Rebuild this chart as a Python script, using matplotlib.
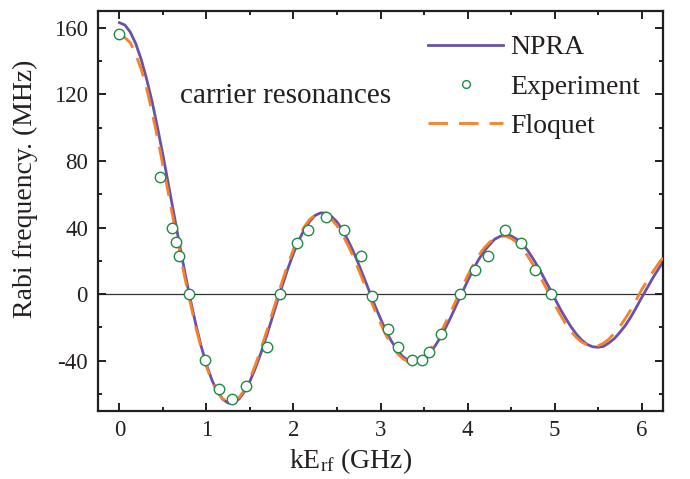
import matplotlib
matplotlib.use("Agg")
import matplotlib.pyplot as plt
from matplotlib.ticker import MultipleLocator

plt.rcParams['font.family'] = ['Liberation Serif', 'DejaVu Serif']
plt.rcParams['mathtext.fontset'] = 'custom'
plt.rcParams['mathtext.rm'] = 'Liberation Serif'
plt.rcParams['mathtext.it'] = 'Liberation Serif:italic'
plt.rcParams['axes.unicode_minus'] = False

# curves, every 0.0625 GHz
x_curve = [0.0, 0.0625, 0.125, 0.1875, 0.25, 0.3125, 0.375, 0.4375, 0.5, 0.5625,
           0.625, 0.6875, 0.75, 0.8125, 0.875, 0.9375, 1.0, 1.0625, 1.125, 1.1875,
           1.25, 1.3125, 1.375, 1.4375, 1.5, 1.5625, 1.625, 1.6875, 1.75, 1.8125,
           1.875, 1.9375, 2.0, 2.0625, 2.125, 2.1875, 2.25, 2.3125, 2.375, 2.4375,
           2.5, 2.5625, 2.625, 2.6875, 2.75, 2.8125, 2.875, 2.9375, 3.0, 3.0625,
           3.125, 3.1875, 3.25, 3.3125, 3.375, 3.4375, 3.5, 3.5625, 3.625, 3.6875,
           3.75, 3.8125, 3.875, 3.9375, 4.0, 4.0625, 4.125, 4.1875, 4.25, 4.3125,
           4.375, 4.4375, 4.5, 4.5625, 4.625, 4.6875, 4.75, 4.8125, 4.875, 4.9375,
           5.0, 5.0625, 5.125, 5.1875, 5.25, 5.3125, 5.375, 5.4375, 5.5, 5.5625,
           5.625, 5.6875, 5.75, 5.8125, 5.875, 5.9375, 6.0, 6.0625, 6.125, 6.1875, 6.25]

npra = [163.0, 161.6, 157.3, 150.4, 140.9, 129.1, 115.6, 100.0, 83.4, 66.0,
        48.3, 30.7, 13.5, -2.7, -17.6, -31.0, -42.4, -51.6, -58.5, -63.2,
        -65.4, -65.2, -62.9, -58.5, -52.2, -44.4, -35.5, -25.6, -15.2, -4.6,
        5.7, 15.6, 24.5, 32.4, 38.9, 43.8, 47.3, 48.8, 48.6, 46.6,
        43.4, 38.5, 32.5, 25.6, 17.8, 9.6, 1.2, -7.1, -14.7, -22.1,
        -28.2, -33.2, -37.2, -39.6, -40.7, -40.4, -38.6, -35.5, -31.3, -26.1,
        -20.0, -13.4, -6.2, 0.8, 7.8, 14.5, 20.5, 25.6, 29.5, 33.0,
        34.7, 35.6, 35.0, 33.1, 30.3, 26.5, 21.5, 16.2, 10.1, 4.0,
        -2.3, -8.6, -14.2, -19.5, -24.0, -27.6, -30.2, -31.6, -31.9, -31.4,
        -29.3, -26.7, -23.0, -18.9, -13.9, -8.2, -2.2, 3.5, 9.3, 14.6, 19.7]

floquet = [156.0, 154.0, 151.0, 144.0, 135.0, 123.5, 109.0, 94.0, 77.0, 60.5,
           43.0, 27.0, 10.0, -4.8, -19.5, -32.0, -43.5, -52.5, -59.0, -63.0,
           -64.5, -64.5, -62.0, -57.5, -50.5, -42.5, -33.0, -23.0, -12.5, -2.0,
           8.5, 18.0, 27.0, 34.5, 40.5, 45.0, 47.5, 48.5, 47.0, 45.0,
           41.0, 35.8, 29.5, 22.5, 14.5, 6.3, -2.0, -10.0, -17.5, -24.5,
           -30.5, -35.3, -38.5, -40.5, -40.5, -39.8, -37.5, -33.8, -29.0, -23.5,
           -17.0, -10.2, -3.0, 4.0, 11.0, 17.3, 23.0, 27.5, 31.0, 33.5,
           34.5, 34.8, 33.5, 31.2, 27.5, 23.2, 18.0, 12.4, 6.5, 0.3,
           -6.0, -12.0, -17.5, -22.2, -26.0, -28.8, -30.5, -31.3, -31.0, -29.5,
           -27.0, -23.5, -19.5, -14.7, -9.5, -3.6, 2.5, 7.8, 13.0, 17.8, 22.0]

# experiment points
x_exp = [0.0, 0.47, 0.60, 0.65, 0.685, 0.795, 0.987, 1.14, 1.295, 1.456,
         1.70, 1.85, 2.036, 2.166, 2.37, 2.58, 2.78, 2.908, 3.09, 3.196,
         3.357, 3.48, 3.56, 3.695, 3.914, 4.09, 4.24, 4.43, 4.616, 4.77, 4.96]
y_exp = [156.0, 70.5, 39.5, 31.0, 22.6, 0.0, -39.3, -57.1, -62.8, -55.2,
         -31.5, 0.0, 30.7, 38.7, 46.5, 38.7, 23.0, -1.0, -20.7, -31.5,
         -39.5, -39.5, -34.5, -23.7, 0.0, 14.6, 23.0, 38.7, 30.7, 14.6, 0.0]

txt = '#231f20'
fig = plt.figure(figsize=(6.9, 4.79), dpi=100)
ax = fig.add_axes([0.1416, 0.1426, 0.8197, 0.8344])

ax.axhline(0, color='#333333', lw=0.9, zorder=1)
ax.plot(x_curve, npra, color='#6a51a8', lw=2.0, label='NPRA', zorder=2)
ax.plot(x_exp, y_exp, 'o', ms=7.5, mfc='white', mec='#1f8a45', mew=1.0,
        label='Experiment', zorder=4)
ax.plot(x_curve, floquet, color='#f5812a', lw=2.0, dashes=(7, 4),
        label='Floquet', zorder=3)

ax.set_xlim(-0.25, 6.25)
ax.set_ylim(-70, 170)
ax.xaxis.set_major_locator(MultipleLocator(1))
ax.xaxis.set_minor_locator(MultipleLocator(0.5))
ax.yaxis.set_major_locator(MultipleLocator(40))
ax.yaxis.set_minor_locator(MultipleLocator(20))
ax.tick_params(which='both', direction='in', top=True, right=True,
               width=1.4, colors=txt, labelsize=16.5)
ax.tick_params(which='major', length=5.5, pad=7)
ax.tick_params(which='minor', length=3)
for s in ax.spines.values():
    s.set_linewidth(1.6)
    s.set_color(txt)

ax.set_xlabel('kE$_{\\rm rf}$ (GHz)', fontsize=20, color=txt)
ax.set_ylabel('Rabi frequency. (MHz)', fontsize=20, color=txt)
ax.xaxis.set_label_coords(0.447, -0.09)
ax.yaxis.set_label_coords(-0.105, 0.555)

ax.text(0.70, 115, 'carrier resonances', fontsize=21, color=txt,
        va='baseline', ha='left')

leg = ax.legend(loc='upper left', bbox_to_anchor=(0.584, 0.94), frameon=False,
                fontsize=20, handlelength=2.7, handletextpad=0.25,
                labelspacing=0.5, borderpad=0, borderaxespad=0, markerscale=0.75)
for t in leg.get_texts():
    t.set_color(txt)

fig.savefig('out.png', dpi=100)
